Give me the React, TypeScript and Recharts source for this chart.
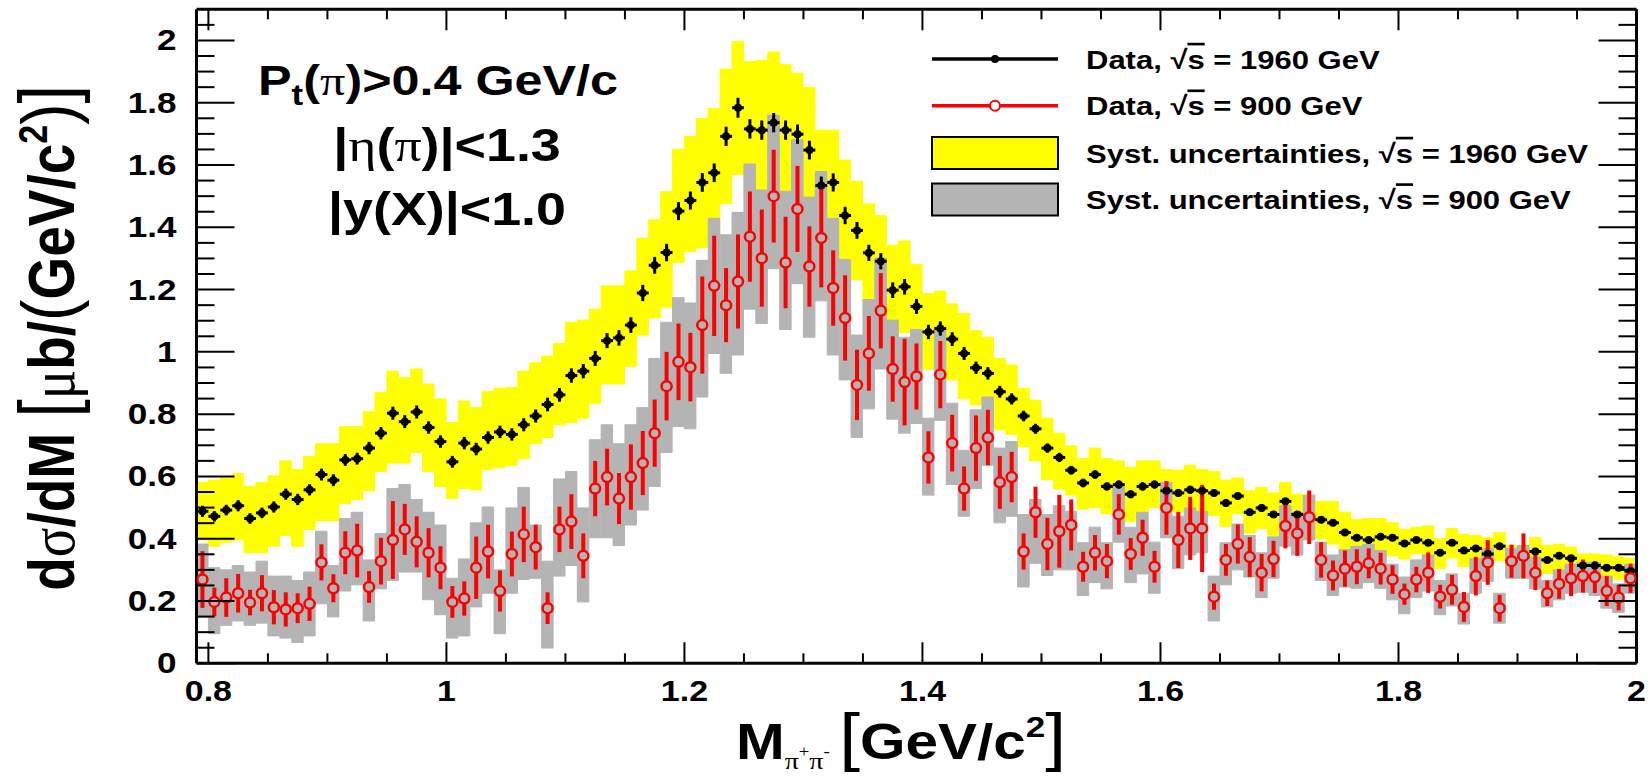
import React from "react";
import { Bar, ComposedChart, ErrorBar, Scatter, XAxis, YAxis } from "recharts";

// histogram binning: 121 bins of 10 MeV starting at 0.79 GeV
const BIN_LOW = 0.79;
const BIN_WIDTH = 0.01;

// sqrt(s) = 1960 GeV
const data1960 = [
  0.488, 0.472, 0.492, 0.506, 0.465, 0.483, 0.502, 0.543, 0.526, 0.557,
  0.606, 0.588, 0.653, 0.657, 0.691, 0.739, 0.803, 0.776, 0.807, 0.757,
  0.712, 0.647, 0.707, 0.688, 0.725, 0.743, 0.735, 0.766, 0.794, 0.831,
  0.862, 0.924, 0.938, 0.979, 1.036, 1.045, 1.086, 1.189, 1.278, 1.319,
  1.452, 1.486, 1.544, 1.575, 1.692, 1.784, 1.716, 1.712, 1.736, 1.712,
  1.699, 1.648, 1.534, 1.544, 1.438, 1.39, 1.318, 1.291, 1.198, 1.209,
  1.146, 1.064, 1.075, 1.041, 0.995, 0.949, 0.931, 0.872, 0.849, 0.794,
  0.753, 0.691, 0.661, 0.62, 0.579, 0.606, 0.568, 0.574, 0.543, 0.568,
  0.574, 0.554, 0.547, 0.557, 0.554, 0.547, 0.515, 0.537, 0.485, 0.499,
  0.478, 0.52, 0.478, 0.469, 0.461, 0.451, 0.42, 0.403, 0.396, 0.406,
  0.403, 0.385, 0.396, 0.387, 0.355, 0.387, 0.362, 0.369, 0.351, 0.376,
  0.328, 0.341, 0.359, 0.332, 0.345, 0.337, 0.314, 0.314, 0.307, 0.307,
  0.296,
];
const stat1960 = [
  0.018, 0.017, 0.017, 0.018, 0.017, 0.017, 0.018, 0.018, 0.018, 0.018,
  0.019, 0.019, 0.019, 0.019, 0.02, 0.02, 0.021, 0.021, 0.021, 0.02,
  0.02, 0.019, 0.02, 0.02, 0.02, 0.02, 0.02, 0.021, 0.021, 0.022,
  0.022, 0.023, 0.023, 0.024, 0.024, 0.025, 0.025, 0.026, 0.027, 0.028,
  0.029, 0.029, 0.03, 0.03, 0.031, 0.032, 0.031, 0.031, 0.031, 0.031,
  0.031, 0.03, 0.029, 0.029, 0.028, 0.027, 0.026, 0.026, 0.025, 0.025,
  0.024, 0.023, 0.023, 0.022, 0.021, 0.02, 0.02, 0.019, 0.018, 0.017,
  0.016, 0.015, 0.015, 0.014, 0.014, 0.014, 0.013, 0.013, 0.013, 0.013,
  0.013, 0.013, 0.013, 0.013, 0.012, 0.012, 0.012, 0.012, 0.012, 0.012,
  0.011, 0.011, 0.011, 0.011, 0.011, 0.011, 0.01, 0.01, 0.01, 0.01,
  0.01, 0.01, 0.01, 0.01, 0.009, 0.009, 0.009, 0.009, 0.009, 0.009,
  0.009, 0.009, 0.009, 0.009, 0.009, 0.009, 0.008, 0.008, 0.008, 0.008,
  0.008,
];
const sysHi1960 = [
  0.581, 0.588, 0.595, 0.609, 0.568, 0.581, 0.602, 0.65, 0.622, 0.664,
  0.705, 0.705, 0.76, 0.76, 0.808, 0.869, 0.938, 0.917, 0.945, 0.897,
  0.849, 0.773, 0.842, 0.821, 0.872, 0.883, 0.886, 0.938, 0.965, 0.986,
  1.027, 1.095, 1.102, 1.137, 1.212, 1.212, 1.26, 1.365, 1.424, 1.514,
  1.651, 1.692, 1.749, 1.781, 1.908, 1.996, 1.932, 1.936, 1.963, 1.922,
  1.895, 1.849, 1.712, 1.712, 1.616, 1.548, 1.475, 1.438, 1.342, 1.356,
  1.28, 1.187, 1.195, 1.154, 1.123, 1.068, 1.047, 0.979, 0.958, 0.883,
  0.845, 0.787, 0.739, 0.698, 0.657, 0.691, 0.657, 0.65, 0.629, 0.65,
  0.65, 0.622, 0.62, 0.636, 0.622, 0.616, 0.588, 0.595, 0.554, 0.565,
  0.547, 0.581, 0.543, 0.54, 0.52, 0.52, 0.485, 0.461, 0.465, 0.465,
  0.451, 0.43, 0.437, 0.441, 0.4, 0.433, 0.414, 0.41, 0.403, 0.42,
  0.378, 0.373, 0.403, 0.378, 0.382, 0.373, 0.351, 0.351, 0.348, 0.341,
  0.337,
];
const sysLo1960 = [
  0.396, 0.376, 0.389, 0.396, 0.355, 0.355, 0.376, 0.41, 0.376, 0.43,
  0.458, 0.458, 0.513, 0.526, 0.554, 0.616, 0.643, 0.643, 0.677, 0.616,
  0.568, 0.529, 0.561, 0.557, 0.622, 0.629, 0.636, 0.657, 0.705, 0.725,
  0.766, 0.773, 0.787, 0.835, 0.897, 0.897, 0.954, 1.054, 1.109, 1.143,
  1.287, 1.322, 1.335, 1.369, 1.476, 1.57, 1.5, 1.488, 1.509, 1.502,
  1.503, 1.447, 1.356, 1.376, 1.26, 1.232, 1.161, 1.144, 1.054, 1.062,
  1.012, 0.945, 0.955, 0.91, 0.85, 0.83, 0.815, 0.75, 0.735, 0.695,
  0.65, 0.59, 0.56, 0.54, 0.495, 0.5, 0.48, 0.485, 0.455, 0.485,
  0.5, 0.49, 0.485, 0.48, 0.485, 0.475, 0.44, 0.48, 0.418, 0.433,
  0.41, 0.45, 0.413, 0.4, 0.4, 0.383, 0.358, 0.348, 0.335, 0.345,
  0.345, 0.335, 0.352, 0.334, 0.305, 0.338, 0.31, 0.325, 0.3, 0.33,
  0.288, 0.3, 0.305, 0.288, 0.292, 0.29, 0.275, 0.275, 0.266, 0.27,
  0.259,
];

// sqrt(s) = 900 GeV
const data900 = [
  0.269, 0.197, 0.211, 0.225, 0.195, 0.225, 0.18, 0.173, 0.177, 0.191,
  0.324, 0.241, 0.355, 0.362, 0.245, 0.328, 0.396, 0.43, 0.39, 0.355,
  0.307, 0.197, 0.208, 0.307, 0.359, 0.232, 0.351, 0.414, 0.373, 0.177,
  0.43, 0.455, 0.345, 0.561, 0.598, 0.529, 0.598, 0.643, 0.739, 0.89,
  0.968, 0.951, 1.086, 1.212, 1.15, 1.226, 1.37, 1.301, 1.5, 1.287,
  1.459, 1.274, 1.366, 1.205, 1.109, 0.894, 0.995, 1.132, 0.945, 0.903,
  0.921, 0.661, 0.927, 0.707, 0.561, 0.691, 0.725, 0.581, 0.598, 0.359,
  0.485, 0.383, 0.424, 0.444, 0.31, 0.355, 0.328, 0.478, 0.351, 0.403,
  0.31, 0.499, 0.396, 0.433, 0.433, 0.214, 0.332, 0.383, 0.341, 0.291,
  0.335, 0.441, 0.417, 0.469, 0.332, 0.282, 0.304, 0.31, 0.321, 0.304,
  0.269, 0.222, 0.269, 0.291, 0.214, 0.236, 0.181, 0.28, 0.324, 0.177,
  0.328, 0.345, 0.291, 0.225, 0.255, 0.273, 0.28, 0.277, 0.232, 0.211,
  0.273,
];
const stat900 = [
  0.091, 0.046, 0.062, 0.062, 0.041, 0.058, 0.055, 0.055, 0.048, 0.055,
  0.058, 0.045, 0.069, 0.086, 0.051, 0.075, 0.125, 0.082, 0.082, 0.079,
  0.069, 0.051, 0.055, 0.1, 0.086, 0.066, 0.072, 0.089, 0.072, 0.051,
  0.073, 0.088, 0.072, 0.089, 0.091, 0.082, 0.105, 0.103, 0.108, 0.11,
  0.123, 0.11, 0.156, 0.161, 0.119, 0.151, 0.145, 0.156, 0.149, 0.147,
  0.138, 0.129, 0.159, 0.121, 0.137, 0.113, 0.12, 0.121, 0.105, 0.139,
  0.106, 0.084, 0.108, 0.091, 0.071, 0.105, 0.089, 0.085, 0.081, 0.058,
  0.082, 0.084, 0.117, 0.082, 0.048, 0.057, 0.055, 0.065, 0.051, 0.058,
  0.051, 0.086, 0.09, 0.101, 0.14, 0.042, 0.051, 0.063, 0.064, 0.06,
  0.058, 0.072, 0.072, 0.086, 0.057, 0.048, 0.058, 0.056, 0.048, 0.051,
  0.046, 0.034, 0.041, 0.065, 0.038, 0.048, 0.048, 0.062, 0.072, 0.043,
  0.053, 0.072, 0.056, 0.041, 0.048, 0.057, 0.053, 0.051, 0.048, 0.041,
  0.047,
];
const sysHi900 = [
  0.383, 0.307, 0.3, 0.314, 0.293, 0.328, 0.28, 0.28, 0.266, 0.293,
  0.424, 0.314, 0.465, 0.485, 0.332, 0.417, 0.561, 0.574, 0.526, 0.485,
  0.444, 0.273, 0.335, 0.451, 0.502, 0.3, 0.499, 0.565, 0.444, 0.328,
  0.592, 0.616, 0.499, 0.718, 0.766, 0.705, 0.766, 0.821, 0.979, 1.095,
  1.174, 1.157, 1.294, 1.429, 1.376, 1.448, 1.603, 1.52, 1.76, 1.516,
  1.681, 1.497, 1.579, 1.429, 1.297, 1.054, 1.168, 1.301, 1.102, 1.047,
  1.072, 0.787, 1.075, 0.835, 0.684, 0.814, 0.855, 0.691, 0.712, 0.478,
  0.526, 0.478, 0.506, 0.488, 0.387, 0.437, 0.387, 0.568, 0.437, 0.485,
  0.389, 0.581, 0.472, 0.499, 0.488, 0.28, 0.387, 0.447, 0.41, 0.355,
  0.406, 0.506, 0.485, 0.54, 0.389, 0.348, 0.365, 0.376, 0.382, 0.362,
  0.318, 0.277, 0.332, 0.348, 0.266, 0.287, 0.225, 0.337, 0.369, 0.225,
  0.369, 0.378, 0.341, 0.266, 0.3, 0.318, 0.324, 0.324, 0.28, 0.255,
  0.318,
];
const sysLo900 = [
  0.149, 0.095, 0.122, 0.136, 0.122, 0.129, 0.088, 0.081, 0.067, 0.088,
  0.191, 0.149, 0.232, 0.252, 0.136, 0.239, 0.266, 0.293, 0.293, 0.204,
  0.156, 0.081, 0.088, 0.181, 0.225, 0.095, 0.225, 0.269, 0.273, 0.049,
  0.28, 0.314, 0.197, 0.403, 0.403, 0.378, 0.444, 0.492, 0.568, 0.677,
  0.76, 0.753, 0.855, 0.995, 0.931, 0.99, 1.137, 1.091, 1.267, 1.072,
  1.219, 1.047, 1.164, 0.99, 0.91, 0.725, 0.817, 0.945, 0.784, 0.739,
  0.77, 0.54, 0.78, 0.574, 0.472, 0.561, 0.636, 0.451, 0.472, 0.245,
  0.321, 0.282, 0.3, 0.3, 0.218, 0.259, 0.239, 0.389, 0.259, 0.287,
  0.225, 0.403, 0.304, 0.348, 0.355, 0.136, 0.252, 0.3, 0.277, 0.211,
  0.273, 0.376, 0.348, 0.396, 0.266, 0.218, 0.245, 0.241, 0.259, 0.241,
  0.204, 0.159, 0.211, 0.232, 0.156, 0.184, 0.126, 0.225, 0.263, 0.129,
  0.273, 0.273, 0.239, 0.181, 0.204, 0.225, 0.228, 0.218, 0.177, 0.163,
  0.225,
];

const xTickLabels = ["0.8", "1", "1.2", "1.4", "1.6", "1.8", "2"];
const yTickLabels = ["0", "0.2", "0.4", "0.6", "0.8", "1", "1.2", "1.4", "1.6", "1.8", "2"];

const rows = data1960.map((v, i) => ({
  x: +(BIN_LOW + BIN_WIDTH * (i + 0.5)).toFixed(3),
  b: v,
  bErr: stat1960[i],
  bx: BIN_WIDTH / 2,
  yBand: [sysLo1960[i], sysHi1960[i]],
  r: data900[i],
  rErr: stat900[i],
  gBand: [sysLo900[i], sysHi900[i]],
}));

const xTicks = Array.from({ length: 25 }, (_, k) => Math.round((0.8 + 0.05 * k) * 100) / 100);
const yTicks = Array.from({ length: 42 }, (_, k) => Math.round(0.05 * k * 100) / 100);

const FONT = "'Liberation Sans', Arial, Helvetica, sans-serif";
const SERIF = "'Liberation Serif', 'Times New Roman', serif";
const SX = 1.17;
const GREY = "#b4b4b4";

const labelFor = (list: string[], v: number) =>
  list.find((l) => Math.abs(parseFloat(l) - v) < 1e-6);

const BottomTick = (p: any) => {
  const lab = labelFor(xTickLabels, p.payload.value);
  return (
    <g>
      <line x1={p.x} y1={p.y} x2={p.x} y2={p.y - (lab ? 21 : 10)} stroke="#000" strokeWidth={2} />
      {lab && (
        <text transform={`translate(${p.x},${p.y + 38}) scale(${SX},1)`} textAnchor="middle"
          fontFamily={FONT} fontWeight="bold" fontSize={29} fill="#000">{lab}</text>
      )}
    </g>
  );
};
const TopTick = (p: any) => {
  const lab = labelFor(xTickLabels, p.payload.value);
  return <line x1={p.x} y1={p.y} x2={p.x} y2={p.y + (lab ? 21 : 10)} stroke="#000" strokeWidth={2} />;
};
const LeftTick = (p: any) => {
  const lab = labelFor(yTickLabels, p.payload.value);
  return (
    <g>
      <line x1={p.x} y1={p.y} x2={p.x + (lab ? 38 : 18)} y2={p.y} stroke="#000" strokeWidth={2} />
      {lab && (
        <text transform={`translate(${p.x - 20},${p.y + 10}) scale(${SX},1)`} textAnchor="end"
          fontFamily={FONT} fontWeight="bold" fontSize={30} fill="#000">{lab}</text>
      )}
    </g>
  );
};
const RightTick = (p: any) => {
  const lab = labelFor(yTickLabels, p.payload.value);
  return <line x1={p.x} y1={p.y} x2={p.x - (lab ? 38 : 18)} y2={p.y} stroke="#000" strokeWidth={2} />;
};

const BlackDot = (p: any) => <circle cx={p.cx} cy={p.cy} r={4} fill="#000" />;
const RedCircle = (p: any) => (
  <circle cx={p.cx} cy={p.cy} r={5} fill={GREY} stroke="#ff0000" strokeWidth={2.5} />
);

const Sqrt = () => (
  <>
    <tspan>√</tspan>
    <tspan style={{ textDecoration: "overline" }}>s</tspan>
  </>
);

function Overlay() {
  const legendText = (y: number, children: React.ReactNode) => (
    <text transform={`translate(1086,${y + 9.5}) scale(${SX},1)`} fontFamily={FONT}
      fontWeight="bold" fontSize={26.5} fill="#000">{children}</text>
  );
  return (
    <svg width={1650} height={778} style={{ position: "absolute", left: 0, top: 0, pointerEvents: "none" }}>
      {/* cut annotations */}
      <g fontFamily={FONT} fontWeight="bold" fill="#000">
        <text transform={`translate(438,95) scale(${SX},1)`} textAnchor="middle" fontSize={43}>
          P<tspan fontSize={30} dy={10}>t</tspan>
          <tspan dy={-10}>(</tspan>
          <tspan fontFamily={SERIF} fontWeight="normal">π</tspan>)&gt;0.4 GeV/c
        </text>
        <text transform={`translate(447,161) scale(${SX},1)`} textAnchor="middle" fontSize={46}>
          |<tspan fontFamily={SERIF} fontWeight="normal">η</tspan>(
          <tspan fontFamily={SERIF} fontWeight="normal">π</tspan>)|&lt;1.3
        </text>
        <text transform={`translate(447,225) scale(${SX},1)`} textAnchor="middle" fontSize={46}>
          |y(X)|&lt;1.0
        </text>
      </g>

      {/* legend */}
      <line x1={932} y1={59} x2={1058} y2={59} stroke="#000" strokeWidth={3.5} />
      <circle cx={995} cy={59} r={4} fill="#000" />
      {legendText(59, <>Data, <Sqrt /> = 1960 GeV</>)}
      <line x1={932} y1={105.7} x2={1058} y2={105.7} stroke="#ff0000" strokeWidth={3.5} />
      <circle cx={995} cy={105.7} r={5} fill="#fff" stroke="#ff0000" strokeWidth={2} />
      {legendText(105.7, <>Data, <Sqrt /> = 900 GeV</>)}
      <rect x={932} y={137} width={126} height={32} fill="#ffff00" stroke="#000" strokeWidth={2} />
      {legendText(153, <>Syst. uncertainties, <Sqrt /> = 1960 GeV</>)}
      <rect x={932} y={183.5} width={126} height={32} fill={GREY} stroke="#000" strokeWidth={2} />
      {legendText(199.5, <>Syst. uncertainties, <Sqrt /> = 900 GeV</>)}

      {/* y axis title */}
      <text transform={`translate(74,338) scale(${SX},1) rotate(-90)`} textAnchor="middle"
        fontFamily={FONT} fontWeight="bold" fontSize={55} fill="#000">
        d<tspan fontFamily={SERIF} fontWeight="normal">σ</tspan>/dM <tspan fontSize={66} fontWeight="normal">[</tspan>
        <tspan fontFamily={SERIF} fontWeight="normal">μ</tspan>b/<tspan fontSize={64} fontWeight="normal">(</tspan>GeV/c
        <tspan fontSize={34} dy={-23}>2</tspan>
        <tspan dy={23} fontSize={64} fontWeight="normal">)</tspan>
        <tspan fontSize={66} fontWeight="normal">]</tspan>
      </text>

      {/* x axis title */}
      <text transform={`translate(901,759) scale(${SX},1)`} textAnchor="middle"
        fontFamily={FONT} fontWeight="bold" fontSize={50} fill="#000">
        M<tspan fontFamily={SERIF} fontWeight="normal" fontSize={24} dy={10}>π</tspan>
        <tspan fontFamily={SERIF} fontWeight="normal" fontSize={16} dy={-12}>+</tspan>
        <tspan fontFamily={SERIF} fontWeight="normal" fontSize={24} dy={12}>π</tspan>
        <tspan fontFamily={SERIF} fontWeight="normal" fontSize={16} dy={-12}>-</tspan>
        <tspan dx={8} dy={2} fontSize={64} fontWeight="normal">[</tspan>GeV/c
        <tspan fontSize={30} dy={-22}>2</tspan>
        <tspan dy={22} fontSize={64} fontWeight="normal">]</tspan>
      </text>
    </svg>
  );
}

export default function App() {
  return (
    <div style={{ position: "absolute", left: 0, top: 0, width: 1650, height: 778, background: "#fff" }}>
      <ComposedChart width={1650} height={778} data={rows} barGap={0} barCategoryGap={0}
        margin={{ top: 4.3, right: 3.5, bottom: 74.7, left: 96.5 }}>
        <XAxis xAxisId="main" dataKey="x" type="number" domain={[BIN_LOW, 2.0]} allowDataOverflow
          ticks={xTicks} interval={0} tickSize={0} tickMargin={0} tickLine={false} height={40}
          axisLine={{ stroke: "#000", strokeWidth: 3 }} tick={BottomTick} />
        <XAxis xAxisId="top" orientation="top" dataKey="x" type="number" domain={[BIN_LOW, 2.0]}
          allowDataOverflow ticks={xTicks} interval={0} tickSize={0} tickMargin={0} tickLine={false}
          height={5} axisLine={{ stroke: "#000", strokeWidth: 3 }} tick={TopTick} />
        <YAxis yAxisId="left" type="number" domain={[0, 2.1]} allowDataOverflow ticks={yTicks}
          interval={0} tickSize={0} tickMargin={0} tickLine={false} width={100}
          axisLine={{ stroke: "#000", strokeWidth: 3 }} tick={LeftTick} />
        <YAxis yAxisId="right" orientation="right" type="number" domain={[0, 2.1]} allowDataOverflow
          ticks={yTicks} interval={0} tickSize={0} tickMargin={0} tickLine={false} width={10}
          axisLine={{ stroke: "#000", strokeWidth: 3 }} tick={RightTick} />

        <Bar xAxisId="main" yAxisId="left" dataKey="yBand" barSize={11.5} fill="#ffff00"
          stroke="#ffff00" strokeWidth={1} isAnimationActive={false} />
        <Bar xAxisId="top" yAxisId="left" dataKey="gBand" barSize={11.5} fill={GREY}
          stroke={GREY} strokeWidth={1} isAnimationActive={false} />

        <Scatter xAxisId="main" yAxisId="left" data={rows} dataKey="b" shape={BlackDot}
          isAnimationActive={false}>
          <ErrorBar dataKey="bErr" direction="y" width={0} stroke="#000" strokeWidth={3} />
          <ErrorBar dataKey="bx" direction="x" width={0} stroke="#000" strokeWidth={3} />
        </Scatter>
        <Scatter xAxisId="main" yAxisId="left" data={rows} dataKey="r" shape={RedCircle}
          isAnimationActive={false}>
          <ErrorBar dataKey="rErr" direction="y" width={0} stroke="#ff0000" strokeWidth={4} />
        </Scatter>
      </ComposedChart>
      <Overlay />
    </div>
  );
}
